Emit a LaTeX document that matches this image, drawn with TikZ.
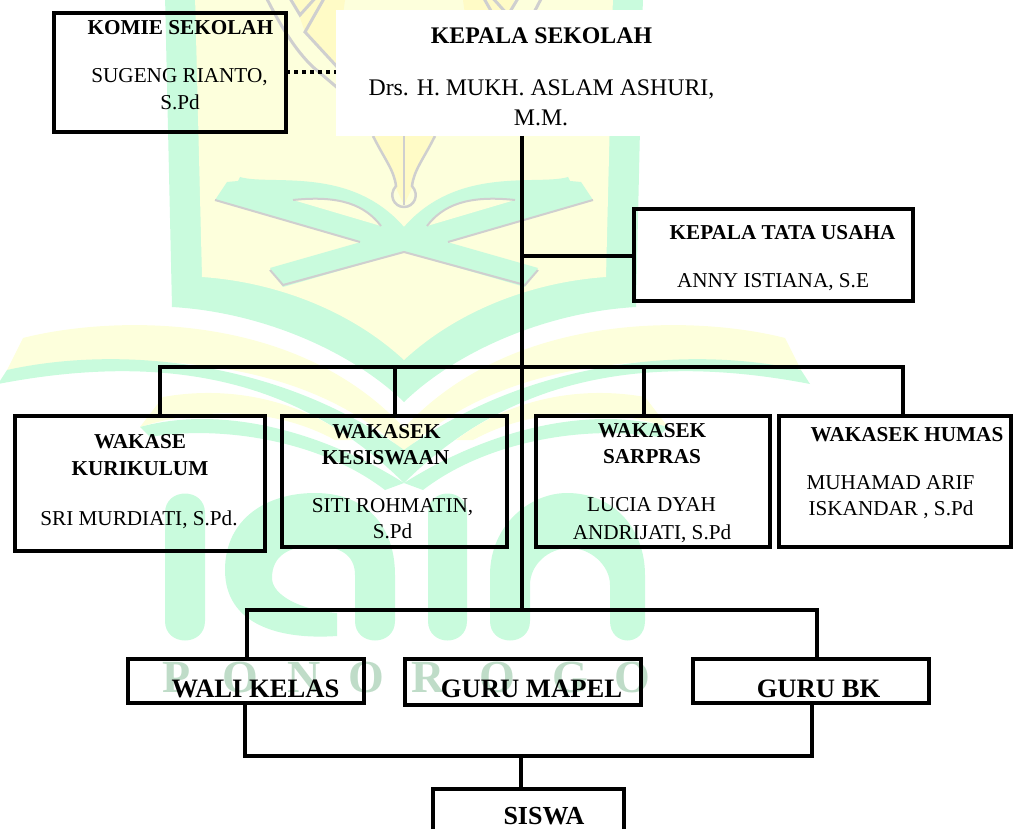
\documentclass[tikz,border=0pt]{standalone}
\usepackage{fontspec}
\setmainfont{Liberation Serif}
\definecolor{wmgreen}{HTML}{C9FBDD}
\definecolor{wmyellow}{HTML}{FDFFDC}
\definecolor{wmpen}{HTML}{FFFBC6}
\definecolor{wmgray}{HTML}{CFCFCF}
\definecolor{wmtext}{HTML}{BFDCC8}
\newcommand\wmback{%
  \fill[wmgreen] (165,-5) -- (172,307) .. controls (260,312) and (350,350) .. (404,402) -- (404,-5) -- cycle;
  \fill[wmyellow] (195,-5) -- (202,277) .. controls (275,282) and (350,310) .. (404,360) -- (404,-5) -- cycle;
  \fill[wmyellow] (23,338) .. controls (100,318) and (290,305) .. (404,428) -- (404,452) .. controls (340,390) and (220,340) .. (7,370) -- cycle;
  \fill[wmgreen] (7,370) .. controls (120,345) and (280,360) .. (404,450) -- (404,483) .. controls (320,400) and (200,345) .. (-2,384) -- cycle;
  \fill[wmyellow] (163,397) .. controls (230,385) and (300,400) .. (352,440) -- (335,440) .. controls (280,410) and (210,405) .. (140,427) -- cycle;
  \fill[wmgreen] (140,427) .. controls (220,405) and (320,430) .. (404,483) -- (385,490) .. controls (320,440) and (220,425) .. (150,437) -- cycle;
}
\newcommand\wmfront{%
  \fill[wmpen] (373,136) .. controls (385,160) and (394,170) .. (395,186) -- (404,205) -- (404,136) -- cycle;
  \fill[wmpen] (292,-5) -- (305,32) -- (336,65) -- (345,0) -- cycle;
  \draw[wmgray,line width=2.5] (373,136) .. controls (385,160) and (394,170) .. (396,186) .. controls (388,195) and (394,207) .. (404,207);
  \draw[wmgray,line width=2] (404,136) -- (404,205);
  \draw[wmgray,line width=3] (265,-5) .. controls (280,25) and (295,50) .. (313,67) -- (340,90);
  \draw[wmgray,line width=3] (326,-5) -- (305,32) -- (340,70);
  \draw[wmgray,line width=3] (288,-5) -- (300,15) -- (318,-5);
  \fill[wmgreen] (215,200) -- (227,182) -- (238,181) -- (240,177) .. controls (270,186) and (350,165) .. (404,227) -- (447,242) -- (538,268) -- (525,287) -- (404,252) -- (360,242) -- cycle;
}
\newcommand\wmtop{%
  \fill[wmyellow] (293,200) .. controls (340,195) and (365,205) .. (381,226) -- cycle;
  \draw[wmgray,line width=2] (293,200) .. controls (340,195) and (365,205) .. (381,226);
  \draw[wmgray,line width=2] (215,200) -- (360,242);
  \draw[wmgray,line width=2] (404,252) -- (525,285) -- (538,270);
}
\tikzset{
  x=1pt,y=-1pt,
  orgbox/.style={draw=black,line width=4.5pt,inner sep=0pt,outer sep=0pt,fill=none},
  link/.style={draw=black,line width=3.5pt},
  lbl/.style={inner sep=0pt,outer sep=0pt,anchor=base,font=\fontsize{#1}{#1}\selectfont,text=black},
  lbl/.default=21.2,
  hlbl/.style={inner sep=0pt,outer sep=0pt,anchor=base,font=\fontsize{#1}{#1}\selectfont\bfseries,text=black},
  hlbl/.default=21.2,
  wmletter/.style={inner sep=0pt,anchor=base,text=wmtext,font=\fontsize{46}{46}\selectfont\bfseries},
}
\begin{document}
\begin{tikzpicture}
\useasboundingbox (0,0) rectangle (1013,829);
\clip (0,0) rectangle (1013,829);
% watermark
\wmback
\begin{scope}[xshift=808pt,xscale=-1]
\wmback
\end{scope}
\wmfront
\begin{scope}[xshift=808pt,xscale=-1]
\wmfront
\end{scope}
\wmtop
\begin{scope}[xshift=808pt,xscale=-1]
\wmtop
\end{scope}
\fill[wmgreen] (165,513) -- (165,621) .. controls (165,647) and (205,647) .. (205,621) -- (205,513) .. controls (205,487) and (165,487) .. (165,513) -- cycle;
\fill[wmgreen] (428,513) -- (428,621) .. controls (428,647) and (467,647) .. (467,621) -- (467,513) .. controls (467,487) and (428,487) .. (428,513) -- cycle;
\fill[wmgreen] (355,621) -- (355,575) .. controls (355,555) and (340,546) .. (315,546) .. controls (290,546) and (272,555) .. (272,578) .. controls (272,595) and (300,610) .. (337,613) -- (337,636) .. controls (280,640) and (225,625) .. (225,570) .. controls (225,520) and (265,493) .. (315,493) .. controls (365,493) and (395,525) .. (395,575) -- (395,621) .. controls (395,647) and (355,647) .. (355,621) -- cycle;
\fill[wmgreen] (490,621) -- (490,575) .. controls (490,525) and (530,493) .. (567,493) .. controls (615,493) and (645,530) .. (645,575) -- (645,621) .. controls (645,647) and (610,647) .. (610,621) -- (610,585) .. controls (610,565) and (590,548) .. (570,548) .. controls (548,548) and (530,565) .. (530,585) -- (530,621) .. controls (530,647) and (490,647) .. (490,621) -- cycle;
\node[wmletter] (wp1) at (177,692) {P};
\node[wmletter] (wp2) at (240,692) {O};
\node[wmletter] (wp3) at (304,692) {N};
\node[wmletter] (wp4) at (366,692) {O};
\node[wmletter] (wp5) at (428,692) {R};
\node[wmletter] (wp6) at (497,692) {O};
\node[wmletter] (wp7) at (570,692) {G};
\node[wmletter] (wp8) at (632,692) {O};
% boxes
\node[fill=white,inner sep=0pt,outer sep=0pt,minimum width=424pt,minimum height=126pt] (head) at (548,73) {};
\node[orgbox,minimum width=232pt,minimum height=119pt] (komite) at (170,72.5) {};
\node[orgbox,minimum width=279pt,minimum height=92pt] (tu) at (773.5,255) {};
\node[orgbox,minimum width=250pt,minimum height=135pt] (w1) at (140,483.5) {};
\node[orgbox,minimum width=225pt,minimum height=131pt] (w2) at (394.5,481.5) {};
\node[orgbox,minimum width=234pt,minimum height=131pt] (w3) at (653,481.5) {};
\node[orgbox,minimum width=232pt,minimum height=131pt] (w4) at (895,481.5) {};
\node[orgbox,minimum width=236pt,minimum height=44pt] (g1) at (246,681) {};
\node[orgbox,minimum width=236pt,minimum height=46pt] (g2) at (523,682) {};
\node[orgbox,minimum width=236pt,minimum height=44pt] (g3) at (811,681) {};
\node[orgbox,minimum width=191pt,minimum height=60pt] (siswa) at (528.5,819) {};
% connector points
\coordinate (trunk) at (522,300);
\coordinate (tuj) at (522,256);
\coordinate (bar0) at (522,367);
\coordinate (bar1) at (160,367);
\coordinate (bar2) at (395,367);
\coordinate (bar3) at (644,367);
\coordinate (bar4) at (903,367);
\coordinate (low0) at (522,610);
\coordinate (low1) at (247,610);
\coordinate (low2) at (817,610);
\coordinate (bot1) at (245,756);
\coordinate (bot2) at (812,756);
\coordinate (bot0) at (521,756);
% connectors
\draw[link] (head.south -| trunk) -- (low0);
\draw[link] (tuj) -- (tuj -| tu.west);
\draw[link,line cap=rect] (bar1) -- (bar4);
\draw[link] (bar1) -- (bar1 |- w1.north);
\draw[link] (bar2) -- (bar2 |- w2.north);
\draw[link] (bar3) -- (bar3 |- w3.north);
\draw[link] (bar4) -- (bar4 |- w4.north);
\draw[link,line cap=rect] (low1) -- (low2);
\draw[link] (low1) -- (low1 |- g1.north);
\draw[link] (low2) -- (low2 |- g3.north);
\draw[link,line join=miter] (bot1 |- g1.south) -- (bot1) -- (bot2) -- (bot2 |- g3.south);
\draw[link] (bot0) -- (bot0 |- siswa.north);
\draw[black,line width=4pt,dash pattern=on 4pt off 4pt] (komite.east) -- (komite.east -| head.west);
% texts
\node[hlbl] (t1) at (180.5,35) {KOMIE SEKOLAH};
\node[lbl] (t2) at (179.5,83) {SUGENG RIANTO,};
\node[lbl] (t3) at (180,110) {S.Pd};
\node[hlbl=23.8] (t4) at (541.5,44) {KEPALA SEKOLAH};
\node[lbl=23.8] (t5) at (541.5,96) {Drs. H. MUKH. ASLAM ASHURI,};
\node[lbl=23.8] (t6) at (541,126) {M.M.};
\node[hlbl] (t7) at (782.5,240) {KEPALA TATA USAHA};
\node[lbl] (t8) at (773,288) {ANNY ISTIANA, S.E};
\node[hlbl] (t9) at (140,448) {WAKASE};
\node[hlbl] (t10) at (140,475) {KURIKULUM};
\node[lbl] (t11) at (139,525) {SRI MURDIATI, S.Pd.};
\node[hlbl] (t12) at (386.5,438) {WAKASEK};
\node[hlbl] (t13) at (385.5,464) {KESISWAAN};
\node[lbl] (t14) at (392.5,512) {SITI ROHMATIN,};
\node[lbl] (t15) at (392.5,538) {S.Pd};
\node[hlbl] (t16) at (652,437) {WAKASEK};
\node[hlbl] (t17) at (652,463) {SARPRAS};
\node[lbl] (t18) at (651.5,511) {LUCIA DYAH};
\node[lbl] (t19) at (652,539) {ANDRIJATI, S.Pd};
\node[hlbl] (t20) at (907,441) {WAKASEK HUMAS};
\node[lbl] (t21) at (890.5,489) {MUHAMAD ARIF};
\node[lbl] (t22) at (891,515) {ISKANDAR , S.Pd};
\node[hlbl=26.6] (t23) at (255.5,697) {WALI KELAS};
\node[hlbl=26.6] (t24) at (531.5,697) {GURU MAPEL};
\node[hlbl=26.6] (t25) at (818.5,697) {GURU BK};
\node[hlbl=26] (t26) at (544,824.5) {SISWA};
\end{tikzpicture}
\end{document}
